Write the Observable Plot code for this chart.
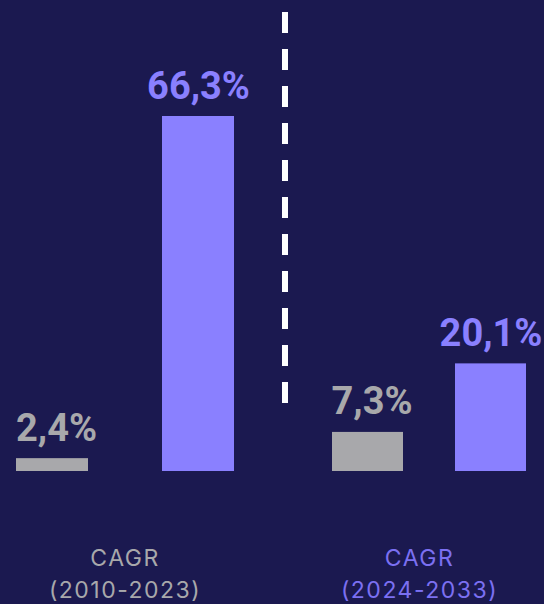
<!DOCTYPE html>
<html><head><meta charset="utf-8">
<script src="https://cdn.jsdelivr.net/npm/d3@7"></script>
<script src="https://cdn.jsdelivr.net/npm/@observablehq/plot@0.6"></script>
<style>
html,body{margin:0;padding:0;background:#1b1950;}
#chart{display:flex;width:544px;height:604px;overflow:hidden;}
#chart svg{flex:none;background:transparent;}
.divider{flex:none;width:6px;height:391px;margin-top:12px;background:repeating-linear-gradient(to bottom,#ffffff 0 21px,transparent 21px 37px);}
.cap{letter-spacing:1.5px;}
</style></head><body><div id="chart"></div>
<script>
// Data
const periods = ["2010-2023", "2024-2033"];
const series = ["Global", "Segment"];
const values = [[2.4, 66.3], [7.3, 20.1]];
const valueLabels = [["2,4%", "66,3%"], ["7,3%", "20,1%"]];
const captions = ["CAGR\n(2010-2023)", "CAGR\n(2024-2033)"];
const seriesColors = ["#a8a8ab", "#8a80ff"];
const captionColors = ["#a8a8ab", "#7b70f2"];

const layouts = [
  {width: 282, marginLeft: 15, marginRight: 48, paddingInner: 0.51, dx: 0},
  {width: 256, marginLeft: 43, marginRight: 17, paddingInner: 0.419, dx: -10}
];

const chart = document.getElementById("chart");
const yMax = d3.max(values.flat());

periods.forEach((p, i) => {
  const rows = series.map((s, j) => ({period: p, series: s, value: values[i][j], label: valueLabels[i][j]}));
  const L = layouts[i];
  const labelStyle = {
    x: "series", y: "value", text: "label", fill: "series",
    lineAnchor: "bottom", dy: -18,
    fontFamily: "Roboto", fontWeight: 700, fontSize: 38
  };
  const plot = Plot.plot({
    width: L.width,
    height: 604,
    marginTop: 116,
    marginBottom: 133,
    marginLeft: L.marginLeft,
    marginRight: L.marginRight,
    style: {background: "transparent", overflow: "visible"},
    x: {domain: series, paddingInner: L.paddingInner, paddingOuter: 0, axis: null},
    y: {domain: [0, yMax], axis: null},
    color: {domain: series, range: seriesColors},
    marks: [
      Plot.barY(rows, {x: "series", y: "value", fill: "series"}),
      Plot.text(rows.filter(d => d.series === series[0]), {...labelStyle, dx: 4}),
      Plot.text(rows.filter(d => d.series === series[1]), {...labelStyle}),
      Plot.text([captions[i]], {
        text: d => d, frameAnchor: "bottom", lineAnchor: "bottom",
        dy: 126, dx: L.dx, fill: captionColors[i],
        fontFamily: "Inter", fontSize: 23, lineHeight: 1.35, className: "cap"
      })
    ]
  });
  chart.appendChild(plot);
  if (i === 0) {
    const div = document.createElement("div");
    div.className = "divider";
    chart.appendChild(div);
  }
});
</script>
</body></html>
